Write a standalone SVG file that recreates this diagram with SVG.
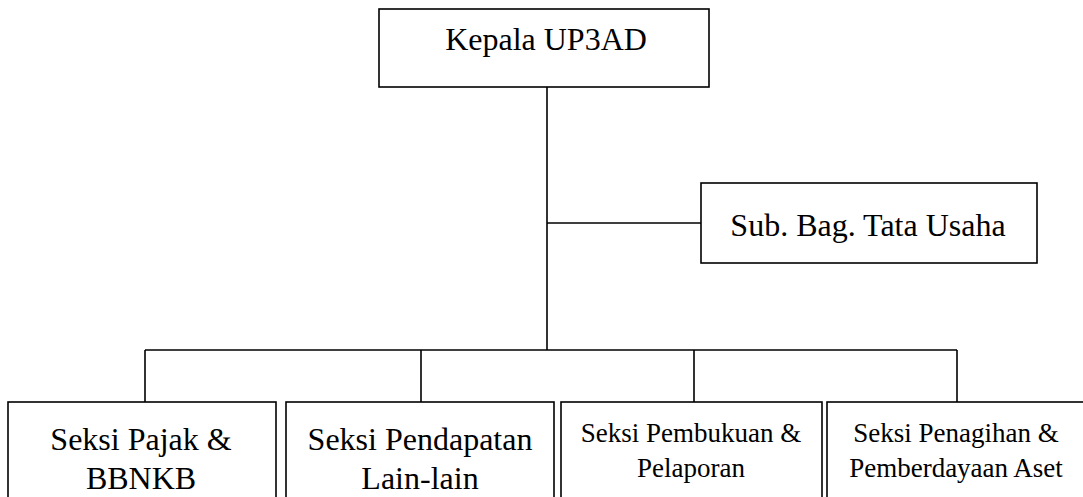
<svg xmlns="http://www.w3.org/2000/svg" width="1083" height="497" viewBox="0 0 1083 497">
<style>
.box{fill:#fff;stroke:#000;stroke-width:1.6}
.ln{fill:none;stroke:#000;stroke-width:1.6}
.t{font-family:"Liberation Serif","Times New Roman","DejaVu Serif",serif;fill:#000;text-anchor:middle}
.big{font-size:32px}
.sm{font-size:27px}
</style>
<rect width="1083" height="497" fill="#fff"/>
<g id="connectors">
<path class="ln" d="M547 87V350M547 223H701M145 350H957M145 350V402M421 350V402M694 350V402M957 350V402"/>
</g>
<g id="kepala">
<rect class="box" x="379" y="9" width="330" height="78"/>
<text class="t big" x="546" y="50">Kepala UP3AD</text>
</g>
<g id="tatausaha">
<rect class="box" x="701" y="183" width="336" height="80"/>
<text class="t big" x="868" y="236">Sub. Bag. Tata Usaha</text>
</g>
<g id="pajak">
<rect class="box" x="8" y="402" width="268" height="110"/>
<text class="t big" x="141" y="450">Seksi Pajak &amp;</text>
<text class="t big" x="141" y="489">BBNKB</text>
</g>
<g id="pendapatan">
<rect class="box" x="286" y="402" width="268" height="110"/>
<text class="t big" x="420" y="450">Seksi Pendapatan</text>
<text class="t big" x="420" y="489">Lain-lain</text>
</g>
<g id="pembukuan">
<rect class="box" x="561" y="402" width="261" height="110"/>
<text class="t sm" x="691" y="442">Seksi Pembukuan &amp;</text>
<text class="t sm" x="691" y="477">Pelaporan</text>
</g>
<g id="penagihan">
<rect class="box" x="827" y="402" width="262" height="110"/>
<text class="t sm" x="956" y="442">Seksi Penagihan &amp;</text>
<text class="t sm" x="956" y="477">Pemberdayaan Aset</text>
</g>
</svg>
